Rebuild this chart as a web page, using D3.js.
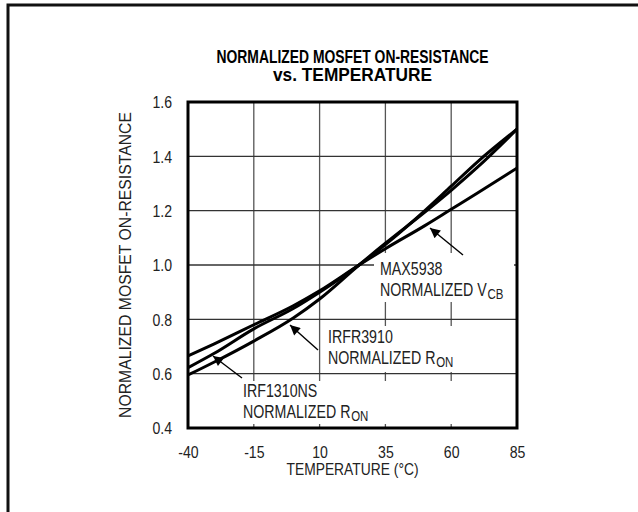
<!DOCTYPE html>
<html>
<head>
<meta charset="utf-8">
<script src="https://cdn.jsdelivr.net/npm/d3@7"></script>
<style>
  html, body { margin: 0; padding: 0; background: #fff; }
  svg { display: block; }
  text { font-family: 'Liberation Sans', Arial, sans-serif; fill: #222; }
</style>
</head>
<body>
<svg id="chart" width="638" height="512"></svg>
<script>
// ---- data ----
const temperatures = [-40, -30, -15, 0, 10, 25, 35, 50, 60, 70, 85];
const max5938Vcb   = [0.665, 0.71, 0.78, 0.85, 0.905, 1.0, 1.06, 1.145, 1.205, 1.265, 1.357];
const irf1310Ron   = [0.622, 0.675, 0.765, 0.84, 0.9, 1.0, 1.075, 1.2, 1.29, 1.38, 1.5];
const irfr3910Ron  = [0.595, 0.643, 0.72, 0.805, 0.875, 1.0, 1.08, 1.195, 1.275, 1.36, 1.5];
const xTicks = [-40, -15, 10, 35, 60, 85];
const yTicks = [0.4, 0.6, 0.8, 1.0, 1.2, 1.4, 1.6];
const titleLines = ["NORMALIZED MOSFET ON-RESISTANCE", "vs. TEMPERATURE"];
const xTitle = "TEMPERATURE (°C)";
const yTitle = "NORMALIZED MOSFET ON-RESISTANCE";

const svg = d3.select("#chart");
const L = 188, R = 517, T = 102, B = 428;
const x = d3.scaleLinear().domain([-40, 85]).range([L, R]);
const y = d3.scaleLinear().domain([0.4, 1.6]).range([B, T]);

function fit(sel, w) {
  sel.attr("textLength", w).attr("lengthAdjust", "spacingAndGlyphs");
}
function condense(sel, f) {
  sel.each(function () {
    const n = this.getComputedTextLength();
    d3.select(this).attr("textLength", n * f).attr("lengthAdjust", "spacingAndGlyphs");
  });
}

// outer frame (top + left)
svg.append("path").attr("d", "M8,512 L8,5 L638,5")
  .attr("fill", "none").attr("stroke", "#111").attr("stroke-width", 3);

// title
const titleW = [272, 159];
svg.selectAll("text.title").data(titleLines).enter().append("text")
  .attr("class", "title")
  .attr("x", (L + R) / 2).attr("y", (d, i) => 63 + i * 18)
  .attr("text-anchor", "middle")
  .style("font-weight", "bold").style("font-size", "18px").style("fill", "#000")
  .text(d => d)
  .each(function (d, i) { fit(d3.select(this), titleW[i]); });

// gridlines
const grid = svg.append("g");
grid.selectAll("line.vx").data(xTicks.slice(1, -1)).enter().append("line")
  .attr("x1", d => x(d)).attr("x2", d => x(d)).attr("y1", T).attr("y2", B)
  .attr("stroke", "#555").attr("stroke-width", 1.3);
grid.selectAll("line.hy").data(yTicks.slice(1, -1)).enter().append("line")
  .attr("x1", L).attr("x2", R).attr("y1", d => y(d)).attr("y2", d => y(d))
  .attr("stroke", "#333").attr("stroke-width", 1.3);

// axes (labels only)
const xAxis = d3.axisBottom(x).tickValues(xTicks).tickSize(0).tickPadding(0)
  .tickFormat(d => d3.format("d")(d).replace("−", "-"));
const gx = svg.append("g").attr("transform", `translate(0,${B})`).call(xAxis);
gx.select(".domain").remove();
gx.selectAll("text").attr("y", 30).attr("dy", 0).style("font-size", "16px")
  .style("font-family", "'Liberation Sans', Arial, sans-serif").style("fill", "#222")
  .call(condense, 0.88);

const yAxis = d3.axisLeft(y).tickValues(yTicks).tickSize(0).tickPadding(0)
  .tickFormat(d3.format(".1f"));
const gy = svg.append("g").attr("transform", `translate(${L},0)`).call(yAxis);
gy.select(".domain").remove();
gy.selectAll("text").attr("x", -16).attr("dy", "0.36em").style("font-size", "16px")
  .style("font-family", "'Liberation Sans', Arial, sans-serif").style("fill", "#222")
  .call(condense, 0.88);

svg.append("text").attr("x", (L + R) / 2).attr("y", 475).attr("text-anchor", "middle")
  .style("font-size", "16.5px").text(xTitle).call(fit, 132);
svg.append("text").attr("transform", `translate(131,${(T + B) / 2}) rotate(-90)`)
  .attr("text-anchor", "middle").style("font-size", "16px").text(yTitle).call(fit, 306);

// annotation boxes (mask gridlines behind the labels)
const notes = [
  { box: [374, 253, 140, 49], x: 380, y: 275, l1: "MAX5938", l2: "NORMALIZED V", sub: "CB",
    arrow: [[463, 255], [430, 228]] },
  { box: [323, 326, 137, 46], x: 328, y: 343, l1: "IRFR3910", l2: "NORMALIZED R", sub: "ON",
    arrow: [[318, 350], [290, 325]] },
  { box: [238, 381, 268, 43], x: 243, y: 397, l1: "IRF1310NS", l2: "NORMALIZED R", sub: "ON",
    arrow: [[242, 378], [213, 356]] }
];
notes.forEach(n => {
  svg.append("rect").attr("x", n.box[0]).attr("y", n.box[1])
    .attr("width", n.box[2]).attr("height", n.box[3]).attr("fill", "#fff");
});

// curves
const series = [max5938Vcb, irf1310Ron, irfr3910Ron];
const line = d3.line().x((d, i) => x(temperatures[i])).y(d => y(d)).curve(d3.curveMonotoneX);
svg.append("clipPath").attr("id", "clip").append("rect")
  .attr("x", L).attr("y", T).attr("width", R - L).attr("height", B - T);
svg.append("g").attr("clip-path", "url(#clip)")
  .selectAll("path").data(series).enter().append("path")
  .attr("d", line).attr("fill", "none").attr("stroke", "#000")
  .attr("stroke-width", 3).attr("stroke-linejoin", "round");

// arrows + text
const defs = svg.append("defs");
defs.append("marker").attr("id", "ah").attr("viewBox", "0 0 10 10")
  .attr("refX", 10).attr("refY", 5).attr("markerWidth", 15).attr("markerHeight", 10)
  .attr("markerUnits", "userSpaceOnUse").attr("orient", "auto")
  .append("path").attr("d", "M0,0 L10,5 L0,10 Z").attr("fill", "#000");

notes.forEach(n => {
  svg.append("line").attr("x1", n.arrow[0][0]).attr("y1", n.arrow[0][1])
    .attr("x2", n.arrow[1][0]).attr("y2", n.arrow[1][1])
    .attr("stroke", "#000").attr("stroke-width", 1.4).attr("marker-end", "url(#ah)");
  svg.append("text").attr("transform", `translate(${n.x},${n.y}) scale(0.79,1)`)
    .style("font-size", "18px").text(n.l1);
  const t2 = svg.append("text").attr("transform", `translate(${n.x},${n.y + 21}) scale(0.79,1)`)
    .style("font-size", "18px");
  t2.append("tspan").text(n.l2);
  t2.append("tspan").attr("dx", 1).attr("dy", 3).style("font-size", "14.5px").text(n.sub);
});

// plot frame
svg.append("rect").attr("x", L).attr("y", T).attr("width", R - L).attr("height", B - T)
  .attr("fill", "none").attr("stroke", "#000").attr("stroke-width", 3);
</script>
</body>
</html>
